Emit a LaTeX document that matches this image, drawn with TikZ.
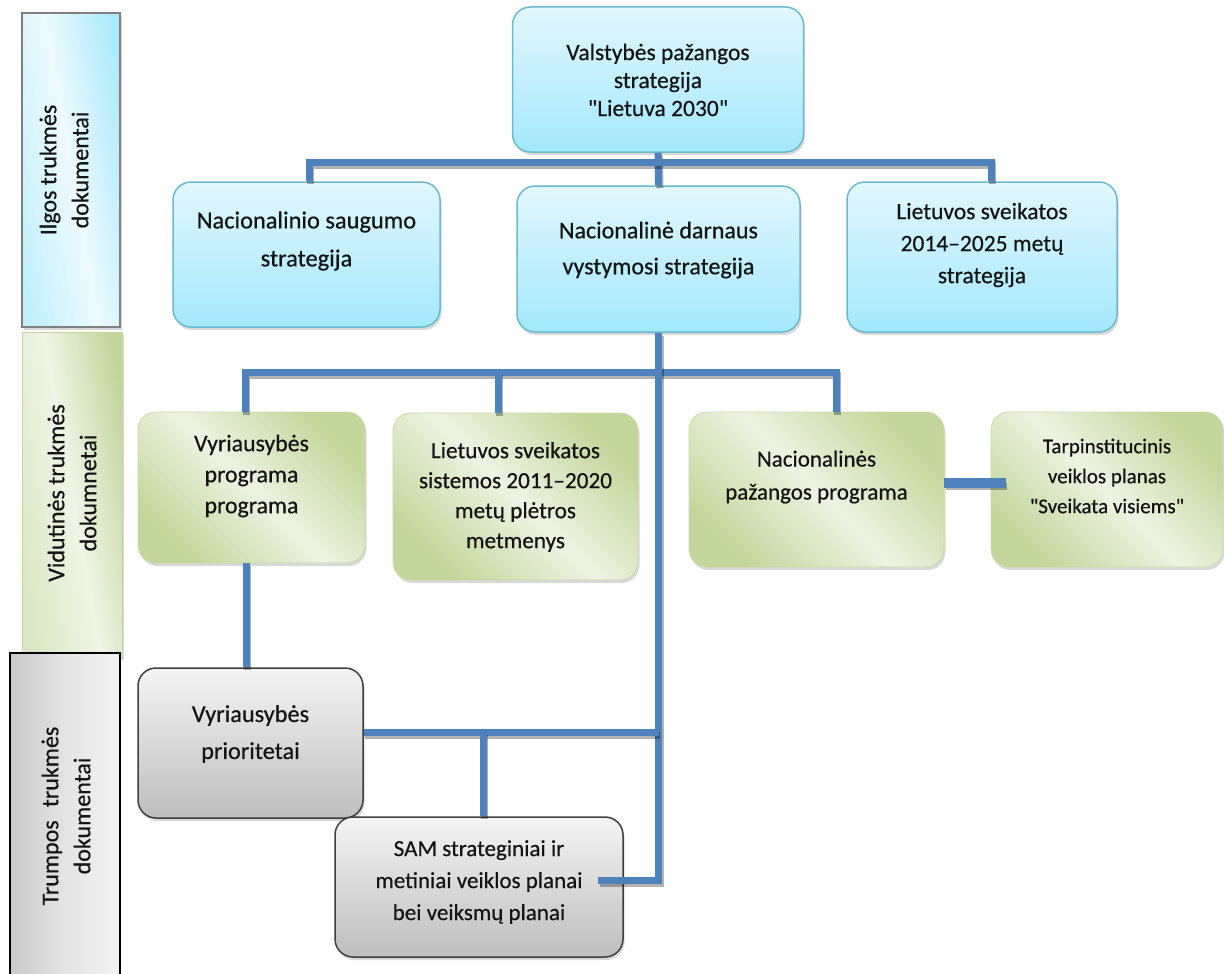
\documentclass[tikz,border=0pt]{standalone}
\usepackage{fontspec}
\setmainfont{Carlito}[FakeBold=0.5,Ligatures=TeXOff]
\usetikzlibrary{shadows}
\definecolor{lineblue}{HTML}{4F81BD}
\definecolor{bTop}{HTML}{E2F7FE}
\definecolor{bBot}{HTML}{A3E8FC}
\definecolor{bBorder}{HTML}{6CB9D0}
\definecolor{gDark}{HTML}{C3D69B}
\definecolor{gLight}{HTML}{EDF3E2}
\definecolor{gBorder}{HTML}{C9DBA8}
\definecolor{grTop}{HTML}{F4F4F4}
\definecolor{grBot}{HTML}{BEBEBE}
\definecolor{grBorder}{HTML}{3F3F3F}
\definecolor{barBlueA}{HTML}{C2F0FD}
\definecolor{barBlueB}{HTML}{EDFAFE}
\definecolor{barBlueC}{HTML}{ADEAFC}
\definecolor{barGreenA}{HTML}{DAE7C3}
\definecolor{barGreenB}{HTML}{EFF5E6}
\definecolor{barGreenC}{HTML}{C2D59C}
\definecolor{barGrayA}{HTML}{C9C9C9}
\definecolor{barGrayB}{HTML}{E4E4E4}
\definecolor{barGrayC}{HTML}{F3F3F3}
\begin{document}
\begin{tikzpicture}[x=1pt,y=-1pt,
  shad/.style={drop shadow={shadow xshift=1.5pt,shadow yshift=-3pt,opacity=0.3}},
  blbox/.style={draw=bBorder,line width=1.5pt,rounded corners=18pt,top color=bTop,bottom color=bBot,shad,inner sep=0pt},
  grnbox/.style={draw=gBorder,line width=0.8pt,rounded corners=18pt,left color=gDark,right color=gDark,middle color=gLight,shading angle=135,shad,inner sep=0pt},
  grybox/.style={draw=grBorder,line width=1.5pt,rounded corners=18pt,top color=grTop,bottom color=grBot,shad,inner sep=0pt},
  conn/.style={draw=lineblue,line width=7pt,
    preaction={draw=black,opacity=0.3,line width=7pt,transform canvas={xshift=1.5pt,yshift=-3pt}}},
  txt/.style={align=center,inner sep=0pt,text=black!92},
  bartxt/.style={align=center,inner sep=0pt,text=black!92,rotate=90,font=\fontsize{24}{32}\selectfont}
]
\useasboundingbox (0,0) rectangle (1224,974);

% left bars
\node[draw=black!50,line width=2pt,left color=barBlueA,right color=barBlueC,middle color=barBlueB,shading angle=100,shad,minimum width=98pt,minimum height=314pt,inner sep=0pt] (lb1) at (71,170) {};
\node[draw=barGreenC,line width=0.6pt,left color=barGreenA,right color=barGreenC,middle color=barGreenB,shading angle=100,shad,minimum width=100pt,minimum height=325pt,inner sep=0pt] (lb2) at (72,494.5) {};
\node[draw=black,line width=1.5pt,left color=barGrayA,right color=barGrayC,middle color=barGrayB,shading angle=90,minimum width=110pt,minimum height=337pt,inner sep=0pt] (lb3) at (65,821.5) {};

% boxes
\node[blbox,minimum width=291pt,minimum height=145pt] (top) at (658,79.5) {};
\node[blbox,minimum width=267pt,minimum height=145pt] (saug) at (306.5,254.5) {};
\node[blbox,minimum width=283pt,minimum height=146pt] (darn) at (658.5,259) {};
\node[blbox,minimum width=270pt,minimum height=150pt] (sveik) at (982,257) {};
\node[grnbox,minimum width=227pt,minimum height=151pt] (vyrprog) at (251.5,487.5) {};
\node[grnbox,minimum width=245pt,minimum height=167pt] (lietsis) at (515.5,496.5) {};
\node[grnbox,minimum width=255pt,minimum height=155pt] (nacpaz) at (816.5,489.5) {};
\node[grnbox,minimum width=232pt,minimum height=155pt] (tarp) at (1107,489.5) {};
\node[grybox,minimum width=225pt,minimum height=150pt] (prior) at (250.5,743) {};
\node[grybox,minimum width=288pt,minimum height=140pt] (sam) at (479,887) {};

% connectors
\coordinate (hub1) at (658.5,162);
\coordinate (hub2) at (658.5,372);
\coordinate (s1) at (598,880);
\coordinate (l2) at ([xshift=-17.5pt]lietsis.north);
\coordinate (v1) at ([xshift=-5.5pt]vyrprog.south);
\coordinate (p1) at ([yshift=11pt]prior.east);
\coordinate (p2) at (483,732);
\draw[conn] (top.south) -- (darn.north);
\draw[conn] ([xshift=2.5pt]saug.north) |- (hub1) -| ([xshift=9pt]sveik.north);
\draw[conn] ([xshift=-6.5pt]vyrprog.north) |- (hub2) -| ([xshift=19.5pt]nacpaz.north);
\draw[conn] (l2) -- (l2 |- hub2);
\draw[conn] (s1) -| (darn.south);
\draw[conn] (v1) -- (v1 |- prior.north);
\draw[conn] (p1) -- (p1 -| darn.south);
\draw[conn] (p2) -- (p2 |- sam.north);
\draw[conn,line width=10pt] ([yshift=6.5pt]nacpaz.east) -- ([xshift=15pt,yshift=6.5pt]tarp.west);

% texts
\node[bartxt] (lt1) at (64,170) {Ilgos trukmės\\dokumentai};
\node[bartxt] (lt2) at (72,493) {Vidutinės trukmės\\dokumnetai};
\node[bartxt] (lt3) at (66,816) {Trumpos\hspace{0.55em}trukmės\\dokumentai};

\node[txt,font=\fontsize{23.5}{28}\selectfont] (ttop) at (658,80) {Valstybės pažangos\\strategija\\"Lietuva 2030"};
\node[txt,font=\fontsize{24.4}{38}\selectfont] (tsaug) at (306.5,241) {Nacionalinio saugumo\\strategija};
\node[txt,font=\fontsize{24}{36}\selectfont] (tdarn) at (658.5,250) {Nacionalinė darnaus\\vystymosi strategija};
\node[txt,font=\fontsize{23.5}{32}\selectfont] (tsveik) at (982,245) {Lietuvos sveikatos\\2014–2025 metų\\strategija};
\node[txt,font=\fontsize{23.8}{31}\selectfont] (tvyrprog) at (251.5,476) {Vyriausybės\\programa\\programa};
\node[txt,font=\fontsize{23.2}{30}\selectfont] (tlietsis) at (515.5,497) {Lietuvos sveikatos\\sistemos 2011–2020\\metų plėtros\\metmenys};
\node[txt,font=\fontsize{23}{33}\selectfont] (tnacpaz) at (816.5,477) {Nacionalinės\\pažangos programa};
\node[txt,font=\fontsize{21}{30}\selectfont] (ttarp) at (1107,476) {Tarpinstitucinis\\veiklos planas\\"Sveikata visiems"};
\node[txt,font=\fontsize{24.3}{37}\selectfont] (tprior) at (250.5,734) {Vyriausybės\\prioritetai};
\node[txt,font=\fontsize{23}{32}\selectfont] (tsam) at (479,882) {SAM strateginiai ir\\metiniai veiklos planai\\bei veiksmų planai};
\end{tikzpicture}
\end{document}
